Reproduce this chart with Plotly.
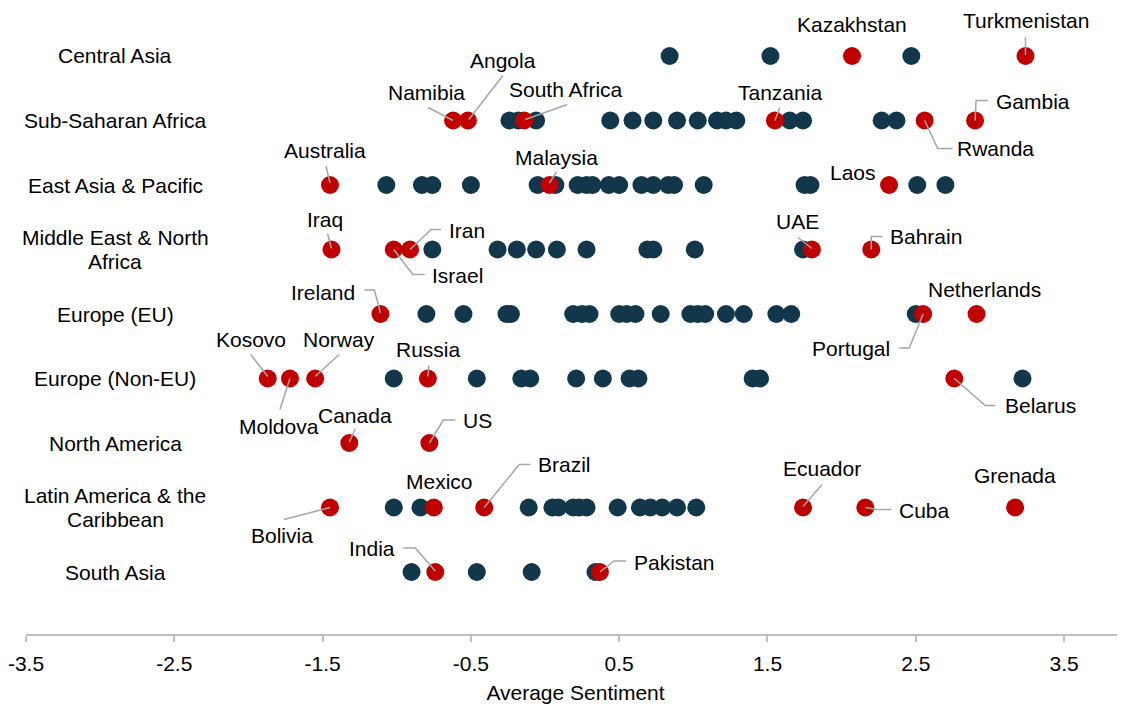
import plotly.graph_objects as go

# ---------------- DATA ----------------
categories = ["Central Asia", "Sub-Saharan Africa", "East Asia & Pacific",
              "Middle East & North\nAfrica", "Europe (EU)", "Europe (Non-EU)",
              "North America", "Latin America & the\nCaribbean", "South Asia"]

# other (unlabelled) countries, average sentiment
other_central_asia = [0.84, 1.52, 2.47]
other_ssa = [-0.24, -0.18, -0.06, 0.44, 0.59, 0.73, 0.89, 1.03, 1.16, 1.22, 1.29,
             1.65, 1.74, 2.27, 2.37]
other_eap = [-1.07, -0.83, -0.76, -0.50, -0.05, 0.07, 0.22, 0.28, 0.32, 0.43, 0.50,
             0.65, 0.73, 0.83, 0.87, 1.07, 1.75, 1.79, 2.51, 2.70]
other_mena = [-0.76, -0.32, -0.19, -0.06, 0.08, 0.28, 0.69, 0.73, 1.01, 1.74]
other_eu = [-0.80, -0.55, -0.26, -0.23, 0.19, 0.25, 0.30, 0.50, 0.55, 0.61, 0.78,
            0.98, 1.03, 1.08, 1.22, 1.34, 1.56, 1.66, 2.50]
other_noneu = [-1.02, -0.46, -0.16, -0.10, 0.21, 0.39, 0.57, 0.63, 1.40, 1.45, 3.22]
other_na = []
other_latam = [-1.02, -0.84, -0.11, 0.05, 0.09, 0.19, 0.23, 0.28, 0.49, 0.64, 0.71,
               0.79, 0.89, 1.02]
other_sa = [-0.90, -0.46, -0.09, 0.34]

# highlighted (labelled) countries
hl_central_asia = {"Kazakhstan": 2.07, "Turkmenistan": 3.24}
hl_ssa = {"Namibia": -0.62, "Angola": -0.52, "South Africa": -0.14,
          "Tanzania": 1.55, "Rwanda": 2.56, "Gambia": 2.90}
hl_eap = {"Australia": -1.45, "Malaysia": 0.03, "Laos": 2.32}
hl_mena = {"Iraq": -1.44, "Israel": -1.02, "Iran": -0.91, "UAE": 1.80, "Bahrain": 2.20}
hl_eu = {"Ireland": -1.11, "Portugal": 2.55, "Netherlands": 2.91}
hl_noneu = {"Kosovo": -1.87, "Moldova": -1.72, "Norway": -1.55, "Russia": -0.79,
            "Belarus": 2.76}
hl_na = {"Canada": -1.32, "US": -0.78}
hl_latam = {"Bolivia": -1.45, "Mexico": -0.75, "Brazil": -0.41, "Ecuador": 1.74,
            "Cuba": 2.16, "Grenada": 3.17}
hl_sa = {"India": -0.74, "Pakistan": 0.37}

others = [other_central_asia, other_ssa, other_eap, other_mena, other_eu,
          other_noneu, other_na, other_latam, other_sa]
highlights = [hl_central_asia, hl_ssa, hl_eap, hl_mena, hl_eu, hl_noneu, hl_na,
              hl_latam, hl_sa]

x_tick_vals = [-3.5, -2.5, -1.5, -0.5, 0.5, 1.5, 2.5, 3.5]
x_tick_text = ["-3.5", "-2.5", "-1.5", "-0.5", "0.5", "1.5", "2.5", "3.5"]
x_title = "Average Sentiment"

# ---------------- LABEL PLACEMENT (pixel offsets, screen y down) ----------------
label_pos = {
    "Kazakhstan": (0, -31, None),
    "Turkmenistan": (0, -35, [(0, -19), (0, -1)]),
    "Namibia": (-27, -28, [(-25, -13), (0, 0)]),
    "Angola": (35, -60, [(35, -45), (1, -1)]),
    "South Africa": (42, -31, [(43, -16), (1, -1)]),
    "Tanzania": (5, -28, [(5, -13), (0, 0)]),
    "Gambia": (58, -19, [(0, 0), (1, -20), (13, -20)]),
    "Rwanda": (71, 28, [(0, 0), (13, 28), (28, 28)]),
    "Australia": (-5, -35, [(-4, -19), (0, -2)]),
    "Malaysia": (7, -28, [(7, -13), (0, -2)]),
    "Laos": (-36, -13, None),
    "Iraq": (-6, -30, [(-4, -16), (0, -1)]),
    "Israel": (64, 26, [(0, 0), (19, 25), (31, 25)]),
    "Iran": (57, -19, [(0, 0), (21, -20), (31, -20)]),
    "UAE": (-14, -28, [(-14, -12), (0, -1)]),
    "Bahrain": (55, -13, [(0, 0), (0, -13), (11, -13)]),
    "Ireland": (-57, -22, [(-16, -24), (-6, -24), (0, -1)]),
    "Portugal": (-72, 34, [(0, 0), (-14, 34), (-24, 34)]),
    "Netherlands": (8, -25, None),
    "Kosovo": (-17, -39, [(-17, -24), (0, -2)]),
    "Moldova": (-11, 48, [(0, 0), (-10, 31)]),
    "Norway": (24, -39, [(24, -24), (0, -2)]),
    "Russia": (1, -29, [(1, -13), (0, -2)]),
    "Belarus": (86, 27, [(0, 0), (31, 27), (41, 27)]),
    "Canada": (6, -28, [(6, -14), (0, -1)]),
    "US": (48, -23, [(0, 0), (14, -23), (26, -23)]),
    "Bolivia": (-48, 28, [(0, 0), (-46, 12)]),
    "Mexico": (6, -26, None),
    "Brazil": (80, -43, [(0, 0), (35, -43), (46, -43)]),
    "Ecuador": (19, -39, [(19, -23), (0, -1)]),
    "Cuba": (59, 3, [(0, 0), (12, 2), (26, 2)]),
    "Grenada": (0, -32, None),
    "India": (-63, -24, [(-32, -24), (-20, -24), (0, -1)]),
    "Pakistan": (75, -10, [(0, 0), (14, -11), (26, -11)]),
}

DARK = "#12374A"
RED = "#C00000"
LINE_GRAY = "#A6A6A6"
FONT = "Liberation Sans, Arial, sans-serif"
FS = 21

n = len(categories)
rows = [n - 1 - i for i in range(n)]

ox, oy, hx, hy, hn = [], [], [], [], []
for i in range(n):
    for v in others[i]:
        ox.append(v)
        oy.append(rows[i])
    for name, v in highlights[i].items():
        hx.append(v)
        hy.append(rows[i])
        hn.append(name)

fig = go.Figure()
fig.add_trace(go.Scatter(x=ox, y=oy, mode="markers",
                         marker=dict(size=18, color=DARK, line=dict(width=0)),
                         hoverinfo="x", showlegend=False))
fig.add_trace(go.Scatter(x=hx, y=hy, mode="markers", text=hn,
                         marker=dict(size=18, color=RED, line=dict(width=0)),
                         hoverinfo="text+x", showlegend=False))

annotations = []
shapes = []
for name, v, r in zip(hn, hx, hy):
    dx, dy, path = label_pos[name]
    annotations.append(dict(x=v, y=r, xref="x", yref="y", text=name,
                            showarrow=False, xshift=dx, yshift=-dy,
                            xanchor="center", yanchor="middle",
                            font=dict(family=FONT, size=FS, color="#000000")))
    if path:
        d = "M " + " L ".join(f"{px},{-py}" for px, py in path)
        shapes.append(dict(type="path", xref="x", yref="y",
                           xsizemode="pixel", ysizemode="pixel",
                           xanchor=v, yanchor=r, path=d,
                           line=dict(color=LINE_GRAY, width=1.5)))

# figure is offset by the page's 8px body margin, so size it to fill the window
FIG_W, FIG_H = 1117, 698
L_MARGIN = 18
PLOT_W = FIG_W - L_MARGIN
cat_x = (107 - L_MARGIN) / PLOT_W
for i, cat in enumerate(categories):
    lines = cat.split("\n")
    k = len(lines)
    for j, line in enumerate(lines):
        shift = ((k - 1) / 2 - j) * 24
        annotations.append(dict(x=cat_x, y=rows[i], xref="paper", yref="y",
                                text=line, showarrow=False, yshift=shift,
                                xanchor="center", yanchor="middle",
                                font=dict(family=FONT, size=FS, color="#000000")))

fig.update_layout(
    width=FIG_W, height=FIG_H,
    margin=dict(l=L_MARGIN, r=0, t=0, b=72),
    paper_bgcolor="white", plot_bgcolor="white",
    font=dict(family=FONT, size=FS, color="#000000"),
    xaxis=dict(range=[-3.5, 3.911], tickvals=x_tick_vals, ticktext=x_tick_text,
               showgrid=False, zeroline=False, showline=True,
               linecolor="#BFBFBF", linewidth=1.5,
               ticks="outside", ticklen=6, tickcolor="#BFBFBF", tickwidth=1.5,
               ticklabelstandoff=4, ticklabeloverflow="allow",
               tickfont=dict(family=FONT, size=FS, color="#000000"),
               title=dict(text=x_title, standoff=11,
                          font=dict(family=FONT, size=FS, color="#000000"))),
    yaxis=dict(range=[-0.961, 8.744], showgrid=False, zeroline=False,
               showline=False, showticklabels=False, ticks=""),
    annotations=annotations, shapes=shapes,
)

fig.write_html("out.html")
